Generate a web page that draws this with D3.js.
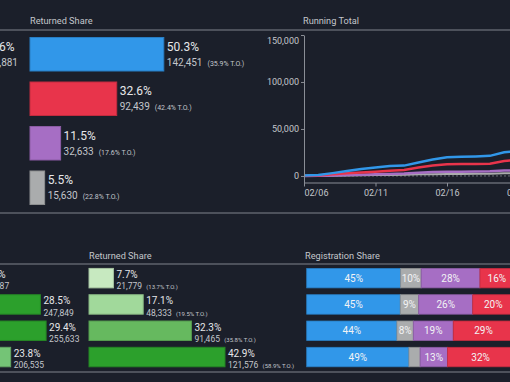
<!DOCTYPE html>
<html lang="en">
<head>
  <meta charset="UTF-8" />
  <title>Turnout Dashboard</title>
  <script src="https://d3js.org/d3.v7.min.js"></script>
  <style>
    body { margin: 0; background: #1b1f2a; overflow: hidden; }
    svg { display: block; font-family: Roboto, "Noto Sans", sans-serif; }
  </style>
</head>
<body>
<svg></svg>
<script>
  // party rows (top)
  const parties = ['DEM', 'REP', 'NPA', 'OTH'];
  const partyColors = ['#3197e9', '#e8344b', '#a66ec4', '#aaacad'];
  const partyRegShare = [45.6, 25.1, 21.3, 7.9];
  const partyRegCount = [396881, 218016, 185415, 68553];
  const partyRetShare = [50.3, 32.6, 11.5, 5.5];
  const partyRetCount = [142451, 92439, 32633, 15630];
  const partyTurnout = [35.9, 42.4, 17.6, 22.8];

  // running total by day (thousands)
  const days = ['02/06','02/07','02/08','02/09','02/10','02/11','02/12','02/13','02/14',
                '02/15','02/16','02/17','02/18','02/19','02/20','02/21','02/22'];
  const runDem = [0.5, 1, 3, 5.3, 7.5, 9, 10.6, 11, 14.3, 17.6, 20, 20.4, 20.8, 21.4, 25.3, 26.5, 28];
  const runRep = [0.2, 0.6, 1.8, 2.8, 3.8, 4.6, 5.5, 6.4, 9, 11, 12.4, 12.6, 12.8, 13.1, 16, 17, 18];
  const runNpa = [0, 0.2, 0.5, 0.9, 1.3, 1.7, 2.1, 2.5, 3.4, 4.1, 4.5, 4.6, 4.8, 5, 5.7, 6, 6.3];
  const runOth = [0, 0.1, 0.3, 0.5, 0.7, 0.9, 1.1, 1.3, 1.7, 1.9, 2.1, 2.2, 2.3, 2.4, 2.8, 3, 3.2];
  const yTicks = [0, 50000, 100000, 150000];
  const xTicks = ['02/06', '02/11', '02/16', '02/21'];

  // age rows (bottom)
  const ages = ['18-34', '35-49', '50-64', '65+'];
  const ageRegShare = [18.3, 28.5, 29.4, 23.8];
  const ageRegCount = [159887, 247849, 255633, 206535];
  const ageRegColors = ['#a1d99b', '#2ca02c', '#2ca02c', '#74c476'];
  const ageRetShare = [7.7, 17.1, 32.3, 42.9];
  const ageRetCount = [21779, 48333, 91465, 121576];
  const ageTurnout = [13.7, 19.5, 35.8, 58.9];
  const ageRetColors = ['#c7e9c0', '#a1d99b', '#66b95f', '#2ca02c'];
  // registration share by party within each age row: DEM, OTH, NPA, REP
  const mixDem = [45.4, 45.2, 43.6, 49.4];
  const mixOth = [9.9, 8.9, 7.9, 5.4];
  const mixNpa = [28.4, 26.1, 19.3, 13.2];
  const mixRep = [16.3, 19.8, 29.2, 32.0];
  const mixColors = ['#3197e9', '#aaacad', '#a66ec4', '#e8344b'];

  const width = 510, height = 382;
  const svg = d3.select('svg').attr('width', width).attr('height', height);
  const fmt = d3.format(',');
  const lineCol = '#5f636c';
  const textCol = '#e6e7e9';
  const subCol = '#c3c6cb';

  // divider lines
  [30, 213, 264, 372].forEach(y => {
    svg.append('line').attr('x1', 0).attr('x2', width).attr('y1', y).attr('y2', y)
      .attr('stroke', lineCol).attr('stroke-width', 1.5);
  });

  function header(x, y, t) {
    svg.append('text').attr('x', x).attr('y', y).text(t)
      .attr('fill', subCol).style('font-size', '9.2px');
  }
  header(30, 24, 'Returned Share');
  header(303, 24, 'Running Total');
  header(89, 259, 'Returned Share');
  header(305, 259, 'Registration Share');

  // generic labelled bar column
  function barColumn(opts) {
    const y = d3.scaleBand().domain(opts.rows).range(opts.yr).paddingInner(opts.pad).paddingOuter(opts.pad / 2);
    const x = d3.scaleLinear().domain([0, 100]).range(opts.xr);
    const g = svg.append('g');
    opts.rows.forEach((r, i) => {
      const c = opts.colors[i];
      if (x(opts.share[i]) > 0) {
        g.append('rect')
          .attr('x', x(0)).attr('y', y(r))
          .attr('width', x(opts.share[i]) - x(0)).attr('height', y.bandwidth())
          .attr('fill', c).attr('stroke', d3.color(c).darker(0.5)).attr('stroke-width', 1);
      }
      const lx = x(opts.share[i]) + 3;
      if (lx < -35) return; // label lies wholly outside the view
      g.append('text').attr('x', lx).attr('y', y(r) + opts.b1)
        .text(opts.share[i].toFixed(1) + '%')
        .attr('fill', textCol).style('font-size', opts.f1 + 'px');
      const t = g.append('text').attr('x', lx).attr('y', y(r) + opts.b2)
        .attr('fill', subCol).style('font-size', opts.f2 + 'px');
      t.append('tspan').text(fmt(opts.count[i]));
      if (opts.turnout) {
        t.append('tspan').attr('dx', opts.f2 * 0.5).style('font-size', opts.f3 + 'px')
          .text('(' + opts.turnout[i].toFixed(1) + '% T.O.)');
      }
    });
  }

  // top: registration (clipped at left), returned share
  barColumn({ rows: parties, colors: partyColors, share: partyRegShare, count: partyRegCount,
    yr: [32, 210], pad: 0.247, xr: [-142, 124], b1: 13.5, b2: 28.5, f1: 12, f2: 10 });
  barColumn({ rows: parties, colors: partyColors, share: partyRetShare, count: partyRetCount,
    turnout: partyTurnout, yr: [32, 210], pad: 0.247, xr: [30, 296], b1: 13.5, b2: 28.5, f1: 12, f2: 10, f3: 7 });

  // bottom: registration (clipped), returned share
  barColumn({ rows: ages, colors: ageRegColors, share: ageRegShare, count: ageRegCount,
    yr: [265, 370.2], pad: 0.26, xr: [-140, 493], b1: 9.5, b2: 21, f1: 10, f2: 8.5 });
  barColumn({ rows: ages, colors: ageRetColors, share: ageRetShare, count: ageRetCount,
    turnout: ageTurnout, yr: [265, 370.2], pad: 0.26, xr: [89, 406], b1: 9.5, b2: 21, f1: 10, f2: 8.5, f3: 6 });

  // stacked registration share
  const mixRows = ages.map((a, i) => ({ row: a, DEM: mixDem[i], OTH: mixOth[i], NPA: mixNpa[i], REP: mixRep[i] }));
  const keys = ['DEM', 'OTH', 'NPA', 'REP'];
  const stack = d3.stack().keys(keys)(mixRows);
  const ys = d3.scaleBand().domain(ages).range([265, 370.2]).paddingInner(0.26).paddingOuter(0.13);
  const xs = d3.scaleLinear().domain([0, 100]).range([306.7, 513.7]);
  stack.forEach((layer, k) => {
    const g = svg.append('g');
    g.selectAll('rect').data(layer).join('rect')
      .attr('x', d => xs(d[0])).attr('y', d => ys(d.data.row))
      .attr('width', d => xs(d[1]) - xs(d[0])).attr('height', ys.bandwidth())
      .attr('fill', mixColors[k]).attr('stroke', d3.color(mixColors[k]).darker(0.5)).attr('stroke-width', 0.8);
    g.selectAll('text').data(layer.filter(d => d[1] - d[0] >= 6)).join('text')
      .attr('x', d => (xs(d[0]) + xs(d[1])) / 2).attr('y', d => ys(d.data.row) + ys.bandwidth() / 2 + 3.5)
      .attr('text-anchor', 'middle').attr('fill', '#f2f3f5').style('font-size', '10px')
      .text(d => Math.round(d[1] - d[0]) + '%');
  });

  // running total line chart
  const parse = d3.utcParse('%m/%d/%Y');
  const dt = s => parse(s + '/2020');
  const x = d3.scaleUtc().domain([dt('02/06'), dt('02/21')]).range([304, 518.5]);
  const y = d3.scaleLinear().domain([-7500, 150000]).range([183, 35]);
  const ax = '#8a8e96';

  svg.append('line').attr('x1', 304).attr('x2', width).attr('y1', y(0)).attr('y2', y(0))
    .attr('stroke', '#6d717a').attr('stroke-dasharray', '2,2').attr('stroke-width', 1);

  const series = [
    { v: runOth, c: '#aaacad', w: 2 },
    { v: runNpa, c: '#a66ec4', w: 2.5 },
    { v: runRep, c: '#e8344b', w: 2.5 },
    { v: runDem, c: '#3197e9', w: 2.5 }
  ];
  const line = d3.line().x((d, i) => x(dt(days[i]))).y(d => y(d * 1000));
  svg.append('clipPath').attr('id', 'clip').append('rect')
    .attr('x', 304).attr('y', 30).attr('width', 220).attr('height', 160);
  series.forEach(s => {
    svg.append('path').datum(s.v).attr('d', line).attr('fill', 'none')
      .attr('stroke', s.c).attr('stroke-width', s.w).attr('clip-path', 'url(#clip)');
  });

  const yAxis = svg.append('g').attr('transform', 'translate(304,0)')
    .call(d3.axisLeft(y).tickValues(yTicks).tickSize(3).tickSizeOuter(0).tickFormat(fmt));
  yAxis.selectAll('path,line').attr('stroke', ax);
  yAxis.selectAll('text').attr('fill', subCol).style('font-size', '9px')
    .style('font-family', 'Roboto, sans-serif').attr('x', -5);
  yAxis.selectAll('.tick').filter(d => d === 150000).select('text').attr('dy', '0.95em');

  const xAxis = svg.append('g').attr('transform', 'translate(0,183)')
    .call(d3.axisBottom(x).tickValues(xTicks.map(dt)).tickSize(3.5).tickSizeOuter(0)
      .tickFormat(d3.utcFormat('%m/%d')));
  xAxis.select('.domain').attr('d', 'M304,0H' + width);
  xAxis.selectAll('path,line').attr('stroke', ax);
  xAxis.selectAll('text').attr('fill', subCol).style('font-size', '9px')
    .style('font-family', 'Roboto, sans-serif').attr('y', 7);
  xAxis.selectAll('.tick').filter((d, i) => i === 0).select('text').attr('text-anchor', 'start');
</script>
</body>
</html>
